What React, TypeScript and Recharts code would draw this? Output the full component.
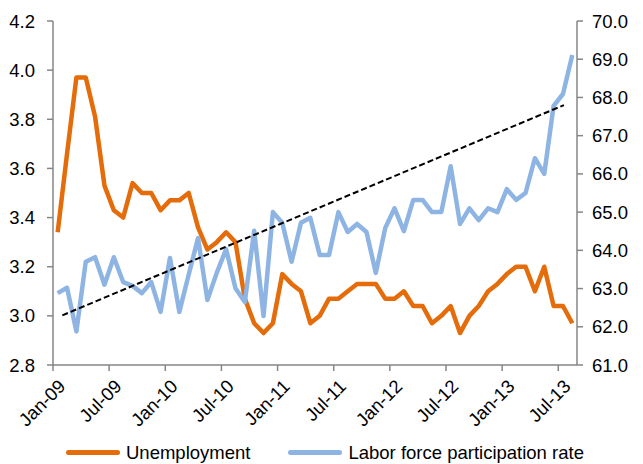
import React from 'react';
import { LineChart, Line, XAxis, YAxis } from 'recharts';

// month labels shown on the x axis (every 6 months)
const tickLabels = ['Jan-09', 'Jul-09', 'Jan-10', 'Jul-10', 'Jan-11', 'Jul-11', 'Jan-12', 'Jul-12', 'Jan-13', 'Jul-13'];

// monthly values, Jan-09 .. Aug-13
const unemployment = [
  3.34, 3.66, 3.97, 3.97, 3.81, 3.53, 3.43, 3.4, 3.54, 3.5, 3.5, 3.43,
  3.47, 3.47, 3.5, 3.36, 3.27, 3.3, 3.34, 3.3, 3.07, 2.97, 2.93, 2.97,
  3.17, 3.13, 3.1, 2.97, 3.0, 3.07, 3.07, 3.1, 3.13, 3.13, 3.13, 3.07,
  3.07, 3.1, 3.04, 3.04, 2.97, 3.0, 3.04, 2.93, 3.0, 3.04, 3.1, 3.13,
  3.17, 3.2, 3.2, 3.1, 3.2, 3.04, 3.04, 2.97,
];

const participation = [
  62.88, 63.02, 61.88, 63.7, 63.82, 63.1, 63.82, 63.17, 63.07, 62.88, 63.17, 62.39,
  63.8, 62.39, 63.36, 64.32, 62.7, 63.41, 64.03, 63.01, 62.65, 64.51, 62.28, 65.0,
  64.72, 63.7, 64.72, 64.85, 63.88, 63.88, 65.0, 64.48, 64.69, 64.48, 63.41, 64.58,
  65.1, 64.5, 65.32, 65.32, 65.0, 65.0, 66.2, 64.69, 65.1, 64.79, 65.1, 65.0,
  65.6, 65.32, 65.5, 66.41, 66.0, 67.78, 68.09, 69.11,
];

// dashed trend line end points (month index, participation value)
const trendMonths = [0.5, 54.1];
const trendValues = [62.3, 67.8];

const leftTicks = [2.8, 3.0, 3.2, 3.4, 3.6, 3.8, 4.0, 4.2];
const rightTicks = [61, 62, 63, 64, 65, 66, 67, 68, 69, 70];

const data = unemployment.map((u, i) => ({ i, u, p: participation[i] }));
const trend = trendMonths.map((m, k) => ({ i: m, t: trendValues[k] }));

const FONT = '"Liberation Sans", Arial, sans-serif';
const FS = 18.5;
const AXIS = '#868686';

const XTick = (props: any) => {
  const { x, y, payload } = props;
  const label = tickLabels[Math.round((payload.value + 0.5) / 6)];
  return (
    <g transform={`translate(${x + 9},${y + 10})`}>
      <text transform="rotate(-45)" textAnchor="end" dy="0.35em" fontSize={FS} fontFamily={FONT} fill="#000">
        {label}
      </text>
    </g>
  );
};

const legendItems = [
  { name: 'Unemployment', color: '#E46C0A' },
  { name: 'Labor force participation rate', color: '#8EB4E3' },
];

export default function App() {
  return (
    <div style={{ position: 'absolute', left: 0, top: 0, width: 643, height: 464, background: '#fff' }}>
      <LineChart width={643} height={464} data={data} margin={{ top: 21, right: 0, left: 0, bottom: 39 }}>
        <XAxis
          type="number"
          dataKey="i"
          domain={[-0.5, 55.5]}
          ticks={tickLabels.map((_, k) => k * 6 - 0.5)}
          tick={<XTick />}
          tickSize={6}
          tickMargin={2}
          stroke={AXIS}
          strokeWidth={1.5}
          height={60}
          interval={0}
        />
        <YAxis
          yAxisId="left"
          domain={[2.8, 4.2]}
          ticks={leftTicks}
          tickFormatter={(v: number) => v.toFixed(1)}
          width={53}
          tickSize={6}
          tickMargin={12}
          stroke={AXIS}
          strokeWidth={1.5}
          tick={{ fill: '#000', fontSize: FS, fontFamily: FONT }}
          interval={0}
        />
        <YAxis
          yAxisId="right"
          orientation="right"
          domain={[61, 70]}
          ticks={rightTicks}
          tickFormatter={(v: number) => v.toFixed(1)}
          width={66}
          tickSize={6}
          tickMargin={9}
          stroke={AXIS}
          strokeWidth={1.5}
          tick={{ fill: '#000', fontSize: FS, fontFamily: FONT, textAnchor: 'start' }}
          interval={0}
        />
        <Line
          yAxisId="left"
          dataKey="u"
          stroke="#E46C0A"
          strokeWidth={4.5}
          strokeLinejoin="round"
          dot={false}
          isAnimationActive={false}
        />
        <Line
          yAxisId="right"
          dataKey="p"
          stroke="#8EB4E3"
          strokeWidth={4.5}
          strokeLinejoin="round"
          dot={false}
          isAnimationActive={false}
        />
        <Line
          yAxisId="right"
          data={trend}
          dataKey="t"
          stroke="#000"
          strokeWidth={2}
          strokeDasharray="6 3"
          dot={false}
          isAnimationActive={false}
        />
      </LineChart>
      <div
        style={{
          position: 'absolute',
          top: 442,
          left: 66,
          display: 'flex',
          alignItems: 'center',
          fontFamily: FONT,
          fontSize: FS,
          lineHeight: '21px',
          color: '#000',
        }}
      >
        {legendItems.map((item, k) => (
          <div key={item.name} style={{ display: 'flex', alignItems: 'center', marginRight: k === 0 ? 38 : 0 }}>
            <div style={{ width: 54, height: 5, borderRadius: 3, background: item.color, marginRight: 6 }} />
            <span>{item.name}</span>
          </div>
        ))}
      </div>
    </div>
  );
}
